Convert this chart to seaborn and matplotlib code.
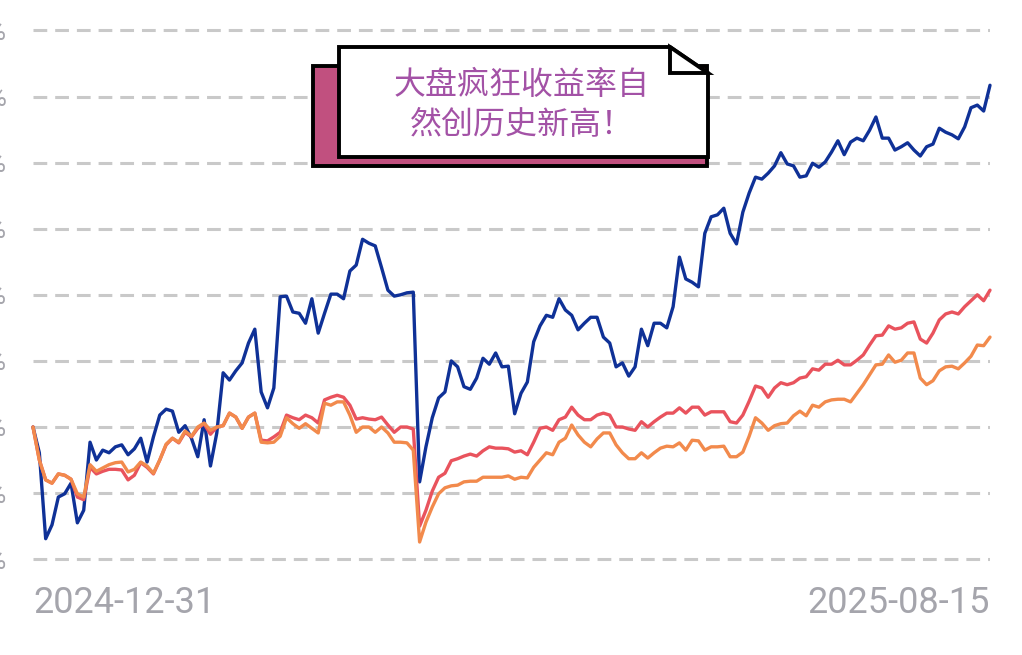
import numpy as np
import pandas as pd
import matplotlib
matplotlib.use('Agg')
import matplotlib.pyplot as plt
import seaborn as sns
from matplotlib.patches import Rectangle, Polygon

sns.set_theme(style='white')
plt.rcParams['font.family'] = ['Roboto', 'Noto Sans CJK SC', 'DejaVu Sans']

# x axis end labels and y grid levels (%)
start_label = '2024-12-31'
end_label = '2025-08-15'
y_levels = [-20, -10, 0, 10, 20, 30, 40, 50, 60]

# cumulative return (%) per trading day
fund = [0.0, -3.9, -16.9, -14.8, -10.6, -10.1, -8.5, -14.5, -12.6, -2.3,
        -5.0, -3.5, -3.9, -3.0, -2.7, -4.2, -3.3, -1.7, -5.3, -1.5,
        1.8, 2.7, 2.4, -0.8, 0.2, -1.7, -4.5, 1.1, -5.9, -0.9,
        8.2, 7.1, 8.5, 9.7, 12.7, 14.8, 5.3, 2.9, 5.9, 19.7,
        19.8, 17.4, 17.2, 15.7, 19.4, 14.2, 17.2, 20.1, 20.1, 19.4,
        23.6, 24.5, 28.4, 27.8, 27.4, 24.1, 20.7, 19.8, 20.0, 20.3,
        20.4, -8.3, -3.0, 1.4, 4.4, 5.3, 10.0, 9.1, 6.1, 5.7,
        7.4, 10.4, 9.5, 11.2, 9.1, 9.2, 2.0, 5.1, 6.8, 12.9,
        15.3, 16.9, 16.6, 19.4, 17.7, 16.9, 14.7, 15.7, 16.6, 16.6,
        13.6, 12.7, 9.1, 9.7, 7.7, 9.1, 14.8, 12.3, 15.7, 15.7,
        15.0, 18.2, 25.7, 22.4, 21.9, 21.2, 29.3, 31.8, 32.1, 33.1,
        29.3, 27.7, 32.5, 35.4, 37.8, 37.5, 38.4, 39.5, 41.5, 39.8,
        39.5, 37.8, 38.0, 39.9, 39.3, 40.1, 41.6, 43.3, 41.2, 43.1,
        43.7, 43.3, 44.9, 46.9, 43.7, 43.7, 41.9, 42.4, 43.0, 41.9,
        41.0, 42.4, 42.8, 45.2, 44.6, 44.2, 43.6, 45.4, 48.3, 48.7,
        47.8, 51.7]

bench_a = [0.0, -5.0, -8.0, -8.5, -7.1, -7.3, -7.9, -10.6, -11.0, -6.1,
           -7.1, -6.7, -6.4, -6.4, -6.5, -8.0, -7.3, -5.4, -6.1, -7.1,
           -5.0, -2.7, -1.7, -2.4, -0.8, -1.5, -0.2, 0.5, -1.1, 0.0,
           0.2, 2.1, 1.5, -0.2, 1.5, 2.1, -2.0, -2.1, -1.5, -0.8,
           1.8, 1.4, 1.1, 1.8, 1.4, 0.6, 4.1, 4.5, 4.8, 4.5,
           3.3, 1.2, 1.4, 1.2, 1.1, 1.5, 0.3, -0.8, 0.0, 0.0,
           -0.3, -15.0, -12.6, -9.7, -7.6, -7.0, -5.1, -4.8, -4.4, -4.1,
           -4.4, -3.6, -3.0, -3.2, -3.2, -3.3, -3.8, -3.6, -4.2, -2.3,
           -0.2, 0.0, -0.5, 1.1, 1.5, 3.0, 1.8, 1.1, 1.1, 1.8,
           2.1, 1.8, 0.0, 0.0, -0.3, -0.5, 0.8, 0.0, 0.8, 1.5,
           2.1, 2.1, 2.9, 2.1, 3.0, 3.0, 1.8, 2.3, 2.3, 2.3,
           0.8, 0.6, 1.8, 3.9, 6.2, 5.9, 4.5, 5.9, 6.7, 6.4,
           6.7, 7.4, 7.6, 8.8, 8.6, 9.5, 9.5, 10.1, 9.4, 9.4,
           10.1, 10.9, 12.4, 13.8, 13.9, 15.3, 14.8, 15.0, 15.7, 15.9,
           13.3, 12.7, 14.2, 16.2, 17.1, 17.4, 17.1, 18.2, 19.1, 20.0,
           19.1, 20.7]

bench_b = [0.0, -5.0, -8.0, -8.5, -7.1, -7.3, -7.9, -10.1, -10.6, -5.7,
           -6.7, -6.2, -5.7, -5.4, -5.3, -6.8, -6.4, -5.3, -5.9, -7.0,
           -5.0, -2.6, -1.7, -2.3, -0.6, -1.4, 0.0, 0.6, -0.5, 0.0,
           0.2, 2.1, 1.5, -0.2, 1.5, 2.1, -2.3, -2.4, -2.3, -1.4,
           1.4, 0.5, -0.2, 0.5, -0.2, -0.9, 3.6, 3.3, 3.8, 3.8,
           1.8, -0.8, 0.0, 0.0, -0.8, 0.0, -0.9, -2.3, -2.3, -2.4,
           -3.5, -17.4, -14.4, -12.1, -10.1, -9.2, -8.9, -8.8, -8.3, -8.2,
           -8.2, -7.6, -7.6, -7.6, -7.6, -7.4, -7.9, -7.6, -7.7, -6.1,
           -5.0, -3.9, -4.2, -2.3, -1.7, 0.3, -1.2, -2.3, -3.0, -1.8,
           -0.9, -0.9, -2.7, -3.9, -4.8, -4.8, -3.9, -4.7, -3.9, -3.2,
           -2.9, -3.0, -2.4, -3.5, -2.0, -2.1, -3.5, -3.0, -3.0, -2.9,
           -4.5, -4.5, -3.8, -1.4, 1.4, 0.6, -0.5, 0.2, 0.5, 0.6,
           1.7, 2.4, 1.7, 3.3, 3.0, 3.8, 4.1, 4.2, 4.2, 3.8,
           5.1, 6.4, 7.9, 9.4, 9.5, 10.9, 9.8, 10.1, 11.2, 11.2,
           7.4, 6.4, 7.0, 8.5, 9.1, 9.2, 8.8, 9.7, 10.7, 12.4,
           12.3, 13.6]

n = len(fund)
day = np.arange(n)
df = pd.DataFrame({
    'day': np.tile(day, 3),
    'ret': fund + bench_a + bench_b,
    'series': ['fund'] * n + ['bench_a'] * n + ['bench_b'] * n,
})
colors = {'fund': '#0f3197', 'bench_a': '#e9535d', 'bench_b': '#f28a4c'}

fig = plt.figure(figsize=(10.22, 6.55), dpi=100)
ax = fig.add_axes([33 / 1022, 85 / 655, 957 / 1022, 550 / 655])

sns.lineplot(data=df, x='day', y='ret', hue='series', palette=colors,
             hue_order=['fund', 'bench_a', 'bench_b'], linewidth=2.4,
             legend=False, ax=ax)
for ln in ax.lines:
    ln.set_clip_on(False)
    ln.set_solid_joinstyle('round')

ax.set_xlim(0, n - 1)
ax.set_ylim((427 - 570) / 6.61, (427 - 20) / 6.61)
ax.set_yticks(y_levels)
ax.set_yticklabels([f'{v}%' for v in y_levels])
ax.yaxis.grid(True, color='#c9c9c9', linestyle=(0, (4.5, 2.6)), linewidth=2.2)
ax.xaxis.grid(False)
ax.set_axisbelow(True)
ax.set_xticks([0, n - 1])
ax.set_xticklabels([start_label, end_label])
xl = ax.get_xticklabels()
xl[0].set_ha('left')
xl[1].set_ha('right')
ax.tick_params(axis='x', length=0, pad=11, labelsize=26, labelcolor='#a5a5ac')
ax.tick_params(axis='y', length=0, pad=19, labelsize=19, labelcolor='#a5a5ac')
ax.set_xlabel('')
ax.set_ylabel('')
sns.despine(ax=ax, left=True, bottom=True)

# callout note drawn in pixel coords
ov = fig.add_axes([0, 0, 1, 1])
ov.set_xlim(0, 1022)
ov.set_ylim(655, 0)
ov.axis('off')
ov.add_patch(Rectangle((313, 66), 394, 100, facecolor='#c1507f',
                       edgecolor='black', linewidth=2.8))
ov.add_patch(Polygon([(339, 47), (670, 47), (708, 73), (708, 157), (339, 157)],
                     closed=True, facecolor='white', edgecolor='black',
                     linewidth=2.8, joinstyle='miter'))
ov.add_patch(Polygon([(670, 47), (670, 73), (708, 73)], closed=True,
                     facecolor='white', edgecolor='black', linewidth=2.8,
                     joinstyle='miter'))
ov.text(522, 105, '大盘疯狂收益率自\n然创历史新高！', ha='center', va='center',
        fontsize=23, color='#a352a6', linespacing=1.35,
        family=['Noto Sans CJK SC', 'DejaVu Sans'])

fig.savefig('out.png', dpi=100)
